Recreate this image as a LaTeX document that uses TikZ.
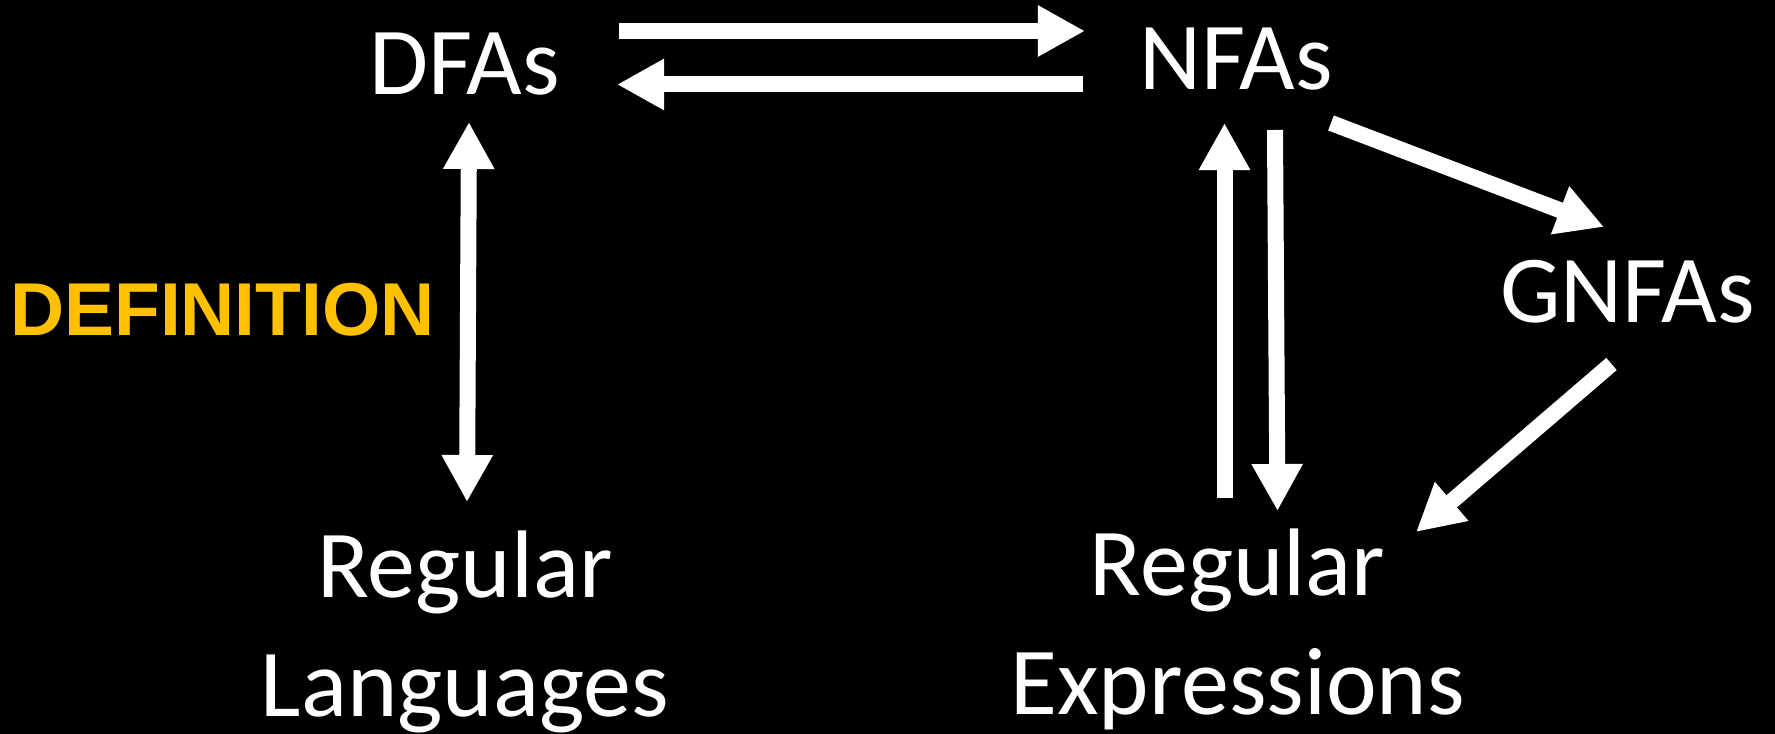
\documentclass[tikz,border=0pt]{standalone}
\usepackage{fontspec}
\setmainfont{Carlito}
\newfontfamily\deffont{Liberation Sans}
\usetikzlibrary{calc,arrows.meta}
\definecolor{defgold}{HTML}{FFC000}
\tikzset{
	label text/.style={inner sep=0pt, anchor=base, text=white, align=center, font=\fontsize{27.3}{33.9}\selectfont},
	big arrow/.style={draw=white, line width=1.6mm, -{Triangle[length=4.7mm,width=4.8mm]}},
}

\begin{document}
\begin{tikzpicture}[x=0.01cm, y=-0.01cm]
			%%%%% START %%%%%
			
			\fill[black] (0, 0) rectangle (1775, 734);
			\useasboundingbox (0, 0) rectangle (1775, 734);
			
			\node[label text] (dfa) at (464.5, 95) {DFAs};
			\node[label text] (nfa) at (1236, 90) {NFAs};
			\node[label text] (gnfa) at (1627.5, 323) {GNFAs};
			\node[label text] (lang) at (465, 717) {Regular\\Languages};
			\node[label text] (rex) at (1237.5, 715) {Regular\\Expressions};
			\node[inner sep=0pt, anchor=base west, text=defgold, font=\deffont\bfseries\fontsize{21.3}{25}\selectfont] (defn) at (9.5, 336) {DEFINITION};
			
			\draw[big arrow] ($(dfa.base)+(154.5, -64)$) -- ($(nfa.base)+(-151, -59)$);
			\draw[big arrow] ($(nfa.base)+(-153, -5.5)$) -- ($(dfa.base)+(152.5, -10.5)$);
			\draw[big arrow, {Triangle[length=4.7mm,width=4.8mm]}-{Triangle[length=4.7mm,width=4.8mm]}] ($(dfa.base)+(4.5, 27)$) -- ($(lang.base)+(2, -215)$);
			
			\draw[big arrow] ($(rex.base)+(-13, -217)$) -- ($(nfa.base)+(-11.5, 33)$);
			\draw[big arrow] ($(nfa.base)+(39, 40)$) -- ($(rex.base)+(40, -204)$);
			\draw[big arrow] ($(nfa.base)+(95, 33)$) -- ($(gnfa.base)+(-23.5, -96)$);
			\draw[big arrow] ($(gnfa.base)+(-16, 41)$) -- ($(rex.base)+(178.5, -183)$);
			
			%%%%% END %%%%%
		\end{tikzpicture}
\end{document}
